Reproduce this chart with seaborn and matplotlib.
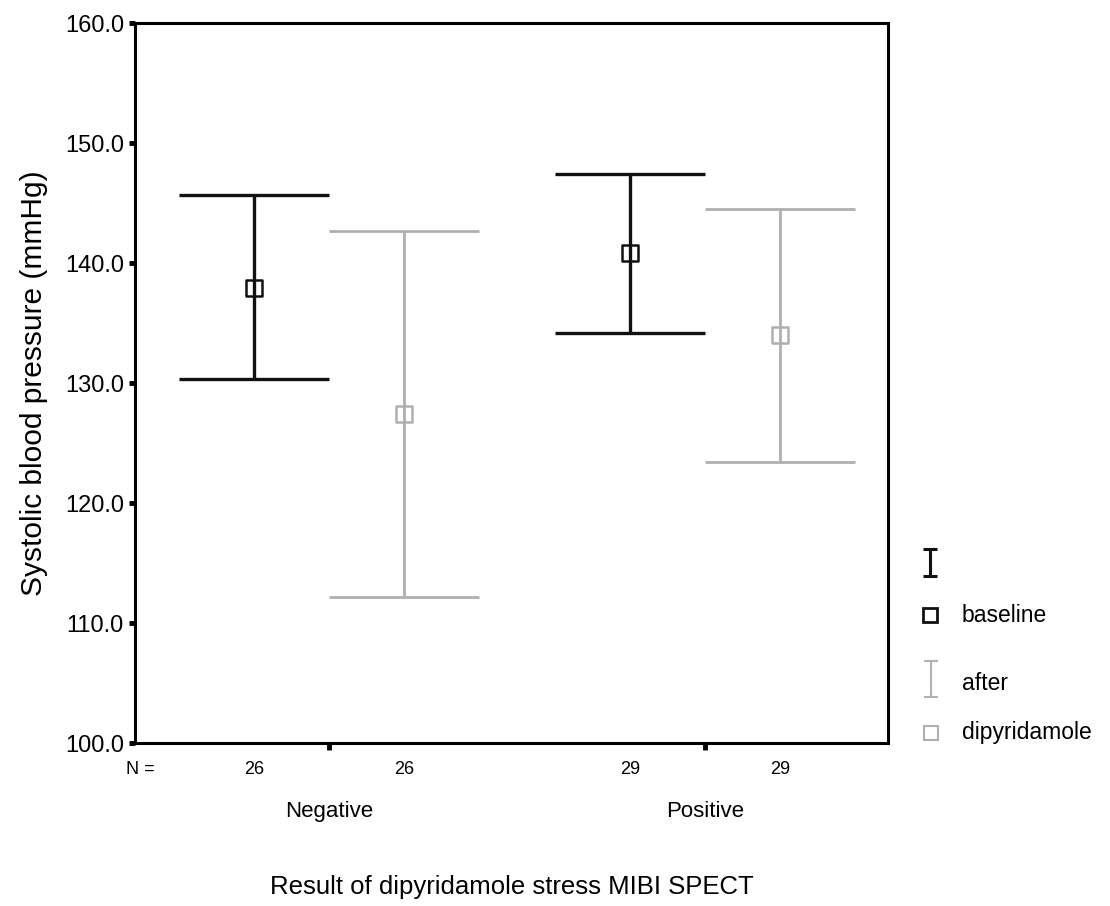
import matplotlib
matplotlib.use("Agg")
import matplotlib.pyplot as plt
import seaborn as sns
import numpy as np
import pandas as pd

# ---- data ----
categories = ["Negative", "Positive"]
n_baseline = [26, 29]
n_after = [26, 29]
baseline_mean = [137.9, 140.8]
baseline_lo = [130.3, 134.2]
baseline_hi = [145.7, 147.4]
after_mean = [127.4, 134.0]
after_lo = [112.2, 123.4]
after_hi = [142.7, 144.5]
yticks = [100.0, 110.0, 120.0, 130.0, 140.0, 150.0, 160.0]

sns.set_theme(style="white")
plt.rcParams['font.family'] = ['Liberation Sans', 'DejaVu Sans']
plt.rcParams['text.color'] = 'black'
plt.rcParams['axes.labelcolor'] = 'black'
plt.rcParams['xtick.color'] = 'black'
plt.rcParams['ytick.color'] = 'black'

BLACK = "#111111"
GREY = "#b0b0b0"

fig = plt.figure(figsize=(11.10, 9.06), dpi=100)
ax = fig.add_axes([135/1110, 1-743/906, (888-135)/1110, (743-23)/906])

offset = 0.2
xpos = np.arange(len(categories))
df = pd.DataFrame({
    "x": np.concatenate([xpos - offset, xpos + offset]),
    "mean": baseline_mean + after_mean,
    "lo": baseline_lo + after_lo,
    "hi": baseline_hi + after_hi,
    "measure": ["baseline"] * 2 + ["after dipyridamole"] * 2,
    "n": n_baseline + n_after,
})

styles = {"baseline": (BLACK, 2.4), "after dipyridamole": (GREY, 2.0)}
for m, sub in df.groupby("measure", sort=False):
    c, lw = styles[m]
    ax.errorbar(sub["x"], sub["mean"],
                yerr=[sub["mean"] - sub["lo"], sub["hi"] - sub["mean"]],
                fmt="none", ecolor=c, elinewidth=lw, capsize=0, zorder=2)
    ax.hlines(sub["lo"], sub["x"] - offset, sub["x"] + offset, color=c, lw=lw, zorder=2)
    ax.hlines(sub["hi"], sub["x"] - offset, sub["x"] + offset, color=c, lw=lw, zorder=2)
    sns.scatterplot(data=sub, x="x", y="mean", ax=ax, marker="s", s=135,
                    facecolor="none", edgecolor=c, linewidth=1.8, zorder=3, legend=False)

ax.set_xlim(-0.516, 1.487)
ax.set_ylim(100, 160)
ax.set_yticks(yticks)
ax.set_yticklabels([f"{v:.1f}" for v in yticks], fontsize=17)
ax.set_xticks(xpos)
ax.set_xticklabels(categories, fontsize=16)
ax.tick_params(axis="y", direction="out", length=4, width=3.5, color="black", pad=4, left=True)
ax.tick_params(axis="x", direction="out", length=5, width=3.5, color="black", pad=37, bottom=True)
for s in ax.spines.values():
    s.set_color("black")
    s.set_linewidth(2.2)

ax.set_xlabel("Result of dipyridamole stress MIBI SPECT", fontsize=18.5, labelpad=38)
ax.set_ylabel("Systolic blood pressure (mmHg)", fontsize=21.5, labelpad=12)

# N row
trans = matplotlib.transforms.blended_transform_factory(ax.transData, ax.transAxes)
for xv, nv in zip(df["x"], df["n"]):
    ax.text(xv, -27/720, str(nv), transform=trans, ha="center", va="center", fontsize=13)
ax.text(-0.465, -27/720, "N =", transform=trans, ha="right", va="center", fontsize=13)

# legend (manual, figure pixel overlay)
lax = fig.add_axes([0, 0, 1, 1], facecolor="none")
lax.set_xlim(0, 1110)
lax.set_ylim(906, 0)
lax.axis("off")
lax.vlines(930, 549, 576, color=BLACK, lw=2.2)
lax.hlines([549, 576], 923, 937, color=BLACK, lw=2.2)
lax.plot([930], [615], marker="s", ms=10.5, mfc="none", mec=BLACK, mew=2)
lax.text(962, 615, "baseline", fontsize=16.5, va="center", ha="left")
lax.vlines(931, 661, 697, color=GREY, lw=1.5)
lax.hlines([661, 697], 924, 938, color=GREY, lw=1.5)
lax.text(962, 683, "after", fontsize=16.5, va="center", ha="left")
lax.plot([931], [733], marker="s", ms=10.5, mfc="none", mec=GREY, mew=1.5)
lax.text(962, 733, "dipyridamole", fontsize=16.5, va="center", ha="left")

fig.savefig("out.png", dpi=100)
